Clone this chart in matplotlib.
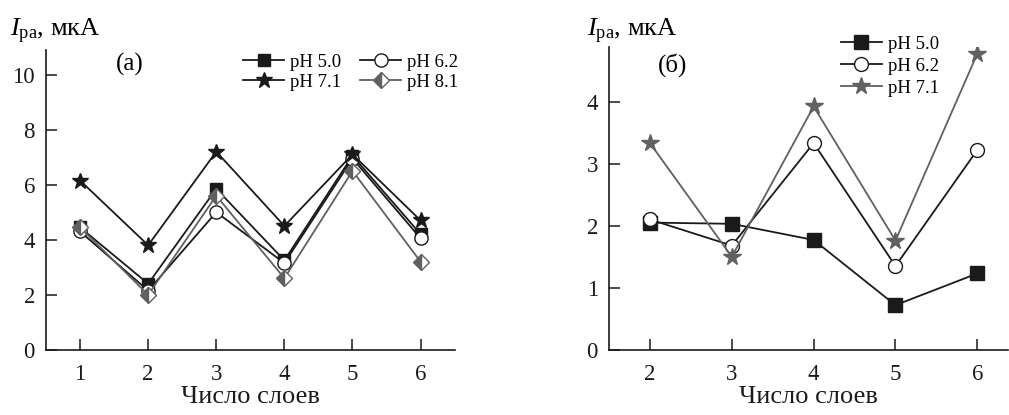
import matplotlib
matplotlib.use("Agg")
import matplotlib.pyplot as plt

plt.rcParams['font.family'] = ['Liberation Serif', 'DejaVu Serif']
plt.rcParams['mathtext.fontset'] = 'custom'
plt.rcParams['mathtext.rm'] = 'Liberation Serif'
plt.rcParams['mathtext.it'] = 'Liberation Serif:italic'

# panel (a)
layers_a = [1, 2, 3, 4, 5, 6]
a_ph50 = [4.45, 2.4, 5.85, 3.25, 7.05, 4.2]
a_ph62 = [4.3, 2.15, 5.0, 3.15, 6.95, 4.05]
a_ph71 = [6.15, 3.8, 7.2, 4.5, 7.1, 4.7]
a_ph81 = [4.45, 2.0, 5.6, 2.6, 6.5, 3.2]

# panel (б)
layers_b = [2, 3, 4, 5, 6]
b_ph50 = [2.05, 2.03, 1.77, 0.72, 1.23]
b_ph62 = [2.1, 1.68, 3.33, 1.35, 3.22]
b_ph71 = [3.33, 1.5, 3.92, 1.76, 4.77]

BLACK = "#1a1a1a"
GRAY = "#606060"
TICK_FS = 16.5
LABEL_FS = 19
LEG_FS = 13.5

fig = plt.figure(figsize=(10.09, 4.15), dpi=100)
ax1 = fig.add_axes([0.0456, 0.157, 0.405, 0.723])
ax2 = fig.add_axes([0.6036, 0.157, 0.395, 0.730])


def style(ax):
	for s in ("top", "right"):
		ax.spines[s].set_visible(False)
	for s in ("left", "bottom"):
		ax.spines[s].set_linewidth(1.2)
		ax.spines[s].set_color(BLACK)
	ax.tick_params(direction="in", length=8, width=1.1, labelsize=TICK_FS, colors=BLACK)
	ax.tick_params(axis="x", pad=10)
	ax.tick_params(axis="y", pad=8)
	ax.set_xlabel("Число слоев", fontsize=LABEL_FS, labelpad=1, color=BLACK)


lw = 1.3
l50, = ax1.plot(layers_a, a_ph50, "-s", color=BLACK, lw=lw, ms=9, label="pH 5.0")
l62, = ax1.plot(layers_a, a_ph62, "-o", color=BLACK, mfc="white", lw=lw, ms=9.5, label="pH 6.2")
l71, = ax1.plot(layers_a, a_ph71, "-*", color=BLACK, lw=lw, ms=12, label="pH 7.1")
l81, = ax1.plot(layers_a, a_ph81, "-D", color=GRAY, mec=GRAY, mfc=GRAY, mfcalt="white",
				fillstyle="left", lw=lw, ms=8.5, label="pH 8.1")
ax1.set_xlim(0.5, 6.5)
ax1.set_ylim(0, 10.9)
ax1.set_xticks(layers_a)
ax1.set_yticks([0, 2, 4, 6, 8, 10])
style(ax1)
ax1.text(0.205, 0.95, "(a)", transform=ax1.transAxes, fontsize=18, ha="center", va="center")
ax1.legend([l50, l71, l62, l81], ["pH 5.0", "pH 7.1", "pH 6.2", "pH 8.1"],
		   ncol=2, loc="upper right", bbox_to_anchor=(1.04, 1.03), frameon=False,
		   fontsize=LEG_FS, handlelength=2.2, columnspacing=1.0, handletextpad=0.3,
		   labelspacing=0.15, borderpad=0.2)
fig.text(0.01, 0.925, r"$I_{\rm pa}$, мкА", fontsize=LABEL_FS, ha="left", va="center")

ax2.plot(layers_b, b_ph50, "-s", color=BLACK, lw=lw, ms=9.5, label="pH 5.0")
ax2.plot(layers_b, b_ph62, "-o", color=BLACK, mfc="white", lw=lw, ms=10, label="pH 6.2")
ax2.plot(layers_b, b_ph71, "-*", color=GRAY, lw=lw, ms=13, label="pH 7.1")
ax2.set_xlim(1.5, 6.37)
ax2.set_ylim(0, 4.88)
ax2.set_xticks(layers_b)
ax2.set_yticks([0, 1, 2, 3, 4])
style(ax2)
ax2.text(0.16, 0.94, "(б)", transform=ax2.transAxes, fontsize=18, ha="center", va="center")
ax2.legend(loc="upper right", bbox_to_anchor=(0.86, 1.08), frameon=False,
		   fontsize=LEG_FS, handlelength=2.2, handletextpad=0.3,
		   labelspacing=0.25, borderpad=0.2)
fig.text(0.582, 0.925, r"$I_{\rm pa}$, мкА", fontsize=LABEL_FS, ha="left", va="center")

fig.savefig("out.png", dpi=100)
